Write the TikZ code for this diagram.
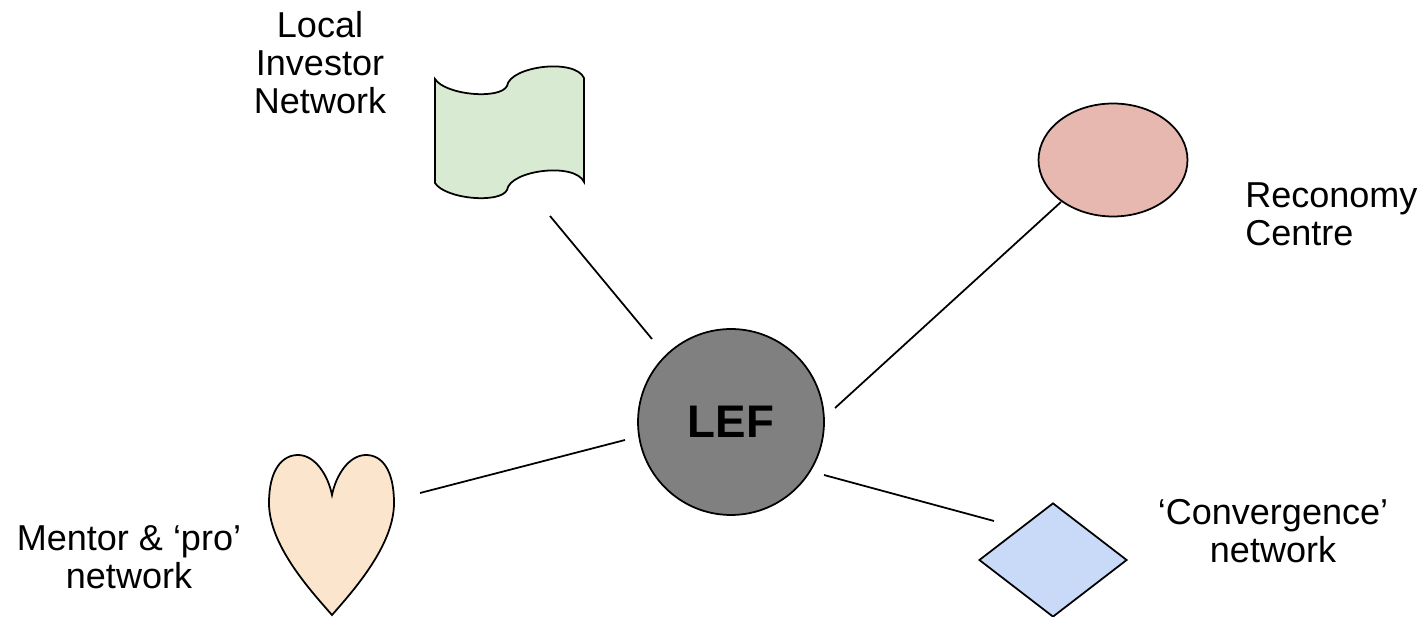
\documentclass[tikz,border=0pt]{standalone}
\usepackage{fontspec}
\setmainfont{Liberation Sans}
\usepackage{tikz}
\usetikzlibrary{shapes.geometric}

\definecolor{invgreen}{HTML}{D9EAD3}
\definecolor{mentorpeach}{HTML}{FCE5CD}
\definecolor{convblue}{HTML}{C9DAF8}
\definecolor{recosalmon}{HTML}{E6B8AF}
\definecolor{lefgray}{HTML}{808080}

\tikzset{
  tag/.style={font=\fontsize{20.5}{21.6}\selectfont, inner sep=0pt},
  link/.style={line width=1pt},
  outline/.style={draw, line width=1pt}
}

\begin{document}
\begin{tikzpicture}[x=0.02cm,y=-0.02cm]
  \useasboundingbox (0,0) rectangle (1426,617);

  % centre
  \node[circle, outline, fill=lefgray, minimum size=3.72cm, inner sep=0pt,
        font=\fontsize{26}{30}\selectfont\bfseries] (lef) at (731,422) {LEF};

  % local investor network (flag)
  \draw[outline, fill=invgreen] (435,79) .. controls (445,95) and (500,100) .. (507,86)
    .. controls (510,66) and (575,58) .. (584,78) -- (584,182)
    .. controls (575,162) and (510,170) .. (507,190)
    .. controls (500,204) and (445,199) .. (435,183) -- cycle;
  \node[tag, align=center] (inv) at (320,63) {Local\\Investor\\Network};

  % reconomy centre
  \node[ellipse, outline, fill=recosalmon, minimum width=2.98cm, minimum height=2.26cm,
        inner sep=0pt] (reco) at (1113,160) {};
  \node[tag, align=left, anchor=west] (recotxt) at (1245,214) {Reconomy\\Centre};

  % mentor network (heart)
  \draw[outline, fill=mentorpeach] (332,615) .. controls (310,590) and (269,545) .. (269,503)
    .. controls (269,470) and (282,455) .. (298,455)
    .. controls (315,455) and (328,475) .. (332,495)
    .. controls (336,475) and (349,455) .. (366,455)
    .. controls (382,455) and (394,470) .. (394,503)
    .. controls (394,545) and (354,590) .. (332,615) -- cycle;
  \node[tag, align=center] (mentor) at (129,557) {Mentor \& ‘pro’\\network};

  % convergence network
  \node[diamond, outline, fill=convblue, minimum width=2.96cm, minimum height=2.28cm,
        inner sep=0pt] (conv) at (1053,560) {};
  \node[tag, align=center] (convtxt) at (1273,531) {‘Convergence’\\network};

  % links
  \coordinate (lef-nw) at (652,339);
  \coordinate (inv-end) at (550,216);
  \coordinate (lef-ne) at (835,408);
  \coordinate (reco-end) at (1061,202);
  \coordinate (lef-w) at (625,440);
  \coordinate (mentor-end) at (420,493);
  \coordinate (lef-se) at (824,475);
  \coordinate (conv-end) at (994,521);
  \draw[link] (inv-end) -- (lef-nw);
  \draw[link] (lef-ne) -- (reco-end);
  \draw[link] (mentor-end) -- (lef-w);
  \draw[link] (lef-se) -- (conv-end);
\end{tikzpicture}
\end{document}
